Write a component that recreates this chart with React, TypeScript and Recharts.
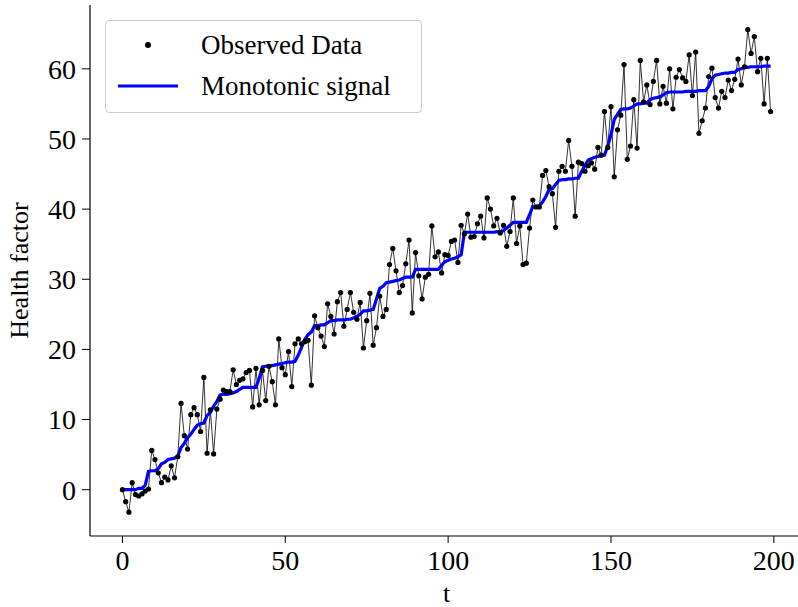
import React from "react";
import { LineChart, Line, XAxis, YAxis, Legend } from "recharts";

// observed health factor, one value per t = 0..199
const observed: number[] = [
  0, -1.7, -3.2, 1.0, -0.7, -0.9, -0.6, -0.2, 0.1, 5.6,
  4.3, 2.4, 1.0, 1.8, 1.4, 3.4, 1.7, 4.7, 12.3, 7.7,
  5.8, 10.7, 11.7, 10.7, 8.3, 16.0, 5.2, 11.4, 5.1, 11.5,
  12.9, 14.2, 14.0, 14.0, 17.1, 15.0, 15.6, 15.8, 16.7, 17.0,
  11.8, 17.3, 12.1, 17.0, 12.7, 17.6, 15.4, 12.1, 21.5, 17.4,
  16.4, 19.7, 14.7, 20.8, 21.5, 20.8, 21.1, 21.3, 14.9, 24.8,
  23.1, 21.9, 20.4, 26.5, 24.7, 22.2, 26.8, 28.1, 23.3, 25.7,
  28.1, 25.3, 24.3, 26.7, 20.2, 24.1, 28.0, 20.6, 23.1, 27.6,
  24.7, 25.7, 32.1, 34.4, 31.2, 28.1, 29.1, 32.2, 35.6, 25.2,
  33.8, 30.5, 27.2, 30.3, 30.7, 37.6, 33.2, 33.9, 30.9, 33.5,
  33.4, 35.4, 35.6, 32.4, 37.7, 36.5, 39.3, 36.0, 36.1, 37.9,
  39.0, 35.9, 41.6, 40.0, 37.6, 38.7, 36.6, 37.7, 34.7, 36.8,
  41.6, 35.1, 37.6, 32.1, 32.3, 37.3, 41.3, 40.3, 40.3, 44.8,
  45.5, 43.2, 42.2, 37.4, 45.4, 46.1, 45.4, 49.8, 46.1, 39.0,
  46.7, 46.5, 45.4, 46.2, 46.6, 45.7, 48.8, 47.7, 53.9, 48.8,
  54.6, 44.6, 51.3, 53.4, 60.6, 47.1, 49.0, 55.6, 48.7, 61.2,
  55.3, 57.7, 54.9, 58.2, 61.2, 55.0, 57.5, 55.1, 60.0, 54.3,
  58.8, 59.9, 58.7, 58.2, 62.0, 56.2, 62.4, 50.8, 52.6, 54.4,
  58.9, 60.1, 55.9, 54.4, 56.8, 55.9, 58.4, 56.9, 58.5, 61.4,
  57.7, 60.3, 65.6, 62.2, 64.6, 59.6, 61.5, 55.0, 61.5, 53.9,
];

// monotonic (non-decreasing) fit
const monotonic: number[] = [
  0, 0, 0, 0, 0, 0.2, 0.2, 0.6, 2.6, 2.7,
  2.7, 3.0, 3.7, 3.9, 4.3, 4.4, 4.5, 4.8, 6.0, 6.6,
  7.4, 7.9, 8.6, 9.2, 9.4, 9.5, 10.6, 11.0, 11.9, 12.6,
  13.5, 13.6, 13.6, 13.7, 13.8, 14.0, 14.3, 14.6, 14.6, 14.6,
  14.6, 14.6, 15.9, 17.5, 17.6, 17.7, 17.7, 17.8, 17.9, 18.0,
  18.1, 18.2, 18.2, 18.3, 19.2, 20.3, 21.4, 22.1, 22.5, 23.4,
  23.4, 23.5, 23.5, 23.8, 24.1, 24.1, 24.2, 24.2, 24.2, 24.3,
  24.3, 24.5, 24.7, 25.0, 25.5, 25.5, 25.6, 25.7, 27.2, 28.7,
  29.0, 29.5, 29.6, 29.7, 29.8, 29.9, 30.1, 30.3, 30.3, 30.3,
  31.4, 31.4, 31.4, 31.4, 31.4, 31.4, 31.4, 31.4, 32.0, 32.5,
  32.7, 32.9, 33.0, 33.2, 33.5, 36.7, 36.7, 36.7, 36.7, 36.7,
  36.7, 36.7, 36.7, 36.7, 36.7, 36.8, 36.8, 36.9, 37.3, 37.7,
  38.1, 38.1, 38.1, 38.1, 38.1, 39.2, 40.4, 40.4, 40.5, 41.0,
  41.8, 42.8, 42.9, 43.5, 44.1, 44.2, 44.2, 44.3, 44.3, 44.4,
  44.4, 45.4, 46.2, 47.0, 47.2, 47.4, 47.5, 47.6, 47.7, 49.0,
  50.6, 52.8, 53.5, 54.2, 54.3, 54.3, 54.4, 54.7, 55.0, 55.0,
  55.1, 55.1, 55.6, 55.8, 55.9, 56.0, 56.3, 56.6, 56.7, 56.7,
  56.7, 56.7, 56.7, 56.8, 56.8, 56.8, 56.8, 56.9, 56.9, 56.9,
  57.5, 58.6, 59.1, 59.2, 59.3, 59.4, 59.4, 59.5, 59.5, 59.9,
  60.0, 60.2, 60.2, 60.3, 60.3, 60.3, 60.3, 60.4, 60.4, 60.4,
];

const xTicks = [0, 50, 100, 150, 200];
const yTicks = [0, 10, 20, 30, 40, 50, 60];

const FONT = "'Liberation Serif', 'Times New Roman', serif";

const data = observed.map((v, i) => ({ t: i, obs: v, mono: monotonic[i] }));

function LegendBox() {
  return (
    <div
      style={{
        width: 315,
        height: 91,
        border: "1px solid #cccccc",
        borderRadius: 4,
        background: "rgba(255,255,255,0.8)",
        fontFamily: FONT,
        fontSize: 27,
        color: "black",
        position: "relative",
      }}
    >
      <svg width={80} height={91} style={{ position: "absolute", left: 0, top: 0 }}>
        <circle cx={42} cy={24} r={3} fill="black" />
        <line x1={12} x2={72} y1={65} y2={65} stroke="#0000ff" strokeWidth={3} />
      </svg>
      <div style={{ position: "absolute", left: 95, top: 24, transform: "translateY(-50%)", lineHeight: 1, whiteSpace: "nowrap" }}>
        Observed Data
      </div>
      <div style={{ position: "absolute", left: 95, top: 65, transform: "translateY(-50%)", lineHeight: 1, whiteSpace: "nowrap" }}>
        Monotonic signal
      </div>
    </div>
  );
}

export default function App() {
  const tickStyle = { fontFamily: FONT, fontSize: 28, fill: "black" };
  return (
    <div style={{ position: "absolute", left: 0, top: 0, width: 798, height: 607, overflow: "hidden", background: "white" }}>
      <LineChart width={803} height={607} data={data} margin={{ top: 5, right: 0, left: 0, bottom: 0 }}>
        <XAxis
          dataKey="t"
          type="number"
          domain={[-9.95, 208.95]}
          ticks={xTicks}
          height={71}
          tickSize={7}
          tickMargin={7}
          tick={tickStyle}
          stroke="black"
          axisLine={{ stroke: "black", strokeWidth: 1.2 }}
          tickLine={{ stroke: "black" }}
          allowDataOverflow
          label={{ value: "t", position: "center", dy: 21, style: { fontFamily: FONT, fontSize: 26, fill: "black" } }}
        />
        <XAxis
          xAxisId="top"
          orientation="top"
          dataKey="t"
          type="number"
          domain={[-9.95, 208.95]}
          height={0}
          tick={false}
          tickLine={false}
          axisLine={{ stroke: "black", strokeWidth: 1.2 }}
        />
        <YAxis
          type="number"
          domain={[-6.6, 69.1]}
          ticks={yTicks}
          width={90}
          tickSize={8}
          tickMargin={6}
          tick={tickStyle}
          axisLine={{ stroke: "black", strokeWidth: 1.2 }}
          tickLine={{ stroke: "black" }}
          allowDataOverflow
          label={{ value: "Health factor", angle: -90, position: "center", dx: -26, style: { fontFamily: FONT, fontSize: 26, fill: "black", textAnchor: "middle" } }}
        />
        <Legend
          layout="vertical"
          align="center"
          verticalAlign="middle"
          wrapperStyle={{ top: 20, left: 105, width: 317, height: 93 }}
          content={() => <LegendBox />}
        />
        <Line
          dataKey="obs"
          stroke="black"
          strokeWidth={0.8}
          dot={{ r: 2.6, fill: "black", stroke: "none" }}
          isAnimationActive={false}
        />
        <Line
          dataKey="mono"
          stroke="#0000ff"
          strokeWidth={3.2}
          dot={false}
          isAnimationActive={false}
        />
      </LineChart>
    </div>
  );
}
